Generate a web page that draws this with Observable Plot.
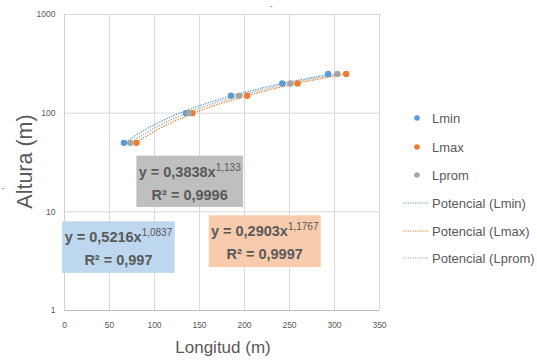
<!DOCTYPE html>
<html><head><meta charset="utf-8">
<script src="https://cdn.jsdelivr.net/npm/d3@7"></script>
<script src="https://cdn.jsdelivr.net/npm/@observablehq/plot@0.6"></script>
<style>body{margin:0;background:#fff}#chart svg{display:block}</style>
</head><body><div id="chart"></div>
<script>
const heights = [50, 100, 150, 200, 250];
const lminX = [66, 135, 185, 242, 293];
const lmaxX = [80, 142, 203, 259, 313];
const lpromX = [73, 138, 194, 251, 303];
const seriesNames = ["Lmin", "Lmax", "Lprom"];
const seriesColors = ["#5b9bd5", "#ed7d31", "#a5a5a5"];
const fitA = [0.5216, 0.2903, 0.3838];
const fitB = [1.0837, 1.1767, 1.133];
const aLabels = ["0,5216", "0,2903", "0,3838"];
const bLabels = ["1,0837", "1,1767", "1,133"];
const r2Labels = ["0,997", "0,9997", "0,9996"];
const boxFills = ["#bdd7ee", "#f8cbad", "#bfbfbf"];
const xTicks = [0, 50, 100, 150, 200, 250, 300, 350];
const yTicks = [1, 10, 100, 1000];
const xTitle = "Longitud (m)";
const yTitle = "Altura (m)";

const FONT = "'Liberation Sans', Arial, sans-serif";
const TXT = "#595959";

const xs = [lminX, lmaxX, lpromX];
const points = [];
seriesNames.forEach((s, i) => xs[i].forEach((x, j) => points.push({series: s, x, y: heights[j]})));

const trend = [];
seriesNames.forEach((s, i) => {
  const [lo, hi] = d3.extent(xs[i]);
  const n = 60;
  for (let k = 0; k <= n; k++) {
    const x = lo + (hi - lo) * k / n;
    trend.push({series: s, x, y: fitA[i] * Math.pow(x, fitB[i])});
  }
});

const chart = Plot.plot({
  width: 537, height: 360,
  marginLeft: 64, marginRight: 158, marginTop: 14, marginBottom: 50,
  style: {fontFamily: FONT, background: "#fff", overflow: "visible"},
  x: {domain: [0, 350], ticks: xTicks, label: null},
  y: {type: "log", domain: [1, 1000], ticks: yTicks, label: null},
  color: {domain: seriesNames, range: seriesColors},
  marks: [
    Plot.gridX(xTicks, {stroke: "#d9d9d9", strokeOpacity: 1}),
    Plot.gridY(yTicks, {stroke: "#d9d9d9", strokeOpacity: 1}),
    Plot.ruleY([1], {stroke: "#bfbfbf"}),
    Plot.ruleX([0], {stroke: "#d0d0d0"}),
    Plot.axisX({ticks: xTicks, tickSize: 0, tickPadding: 11, fontSize: 8.5, fill: TXT, label: null}),
    Plot.axisY({ticks: yTicks, tickSize: 0, tickPadding: 9, fontSize: 8.5, fill: TXT, label: null, tickFormat: d => String(d)}),
    Plot.line(trend, {x: "x", y: "y", z: "series", stroke: "series", strokeWidth: 1.3, strokeDasharray: "1.3,1.3", strokeLinecap: "butt", curve: "linear"}),
    Plot.dot(points, {x: "x", y: "y", fill: "series", r: 3.2})
  ]
});

const svg = d3.select(chart);
const sx = chart.scale("x"), sy = chart.scale("y");

// equation label boxes (data coordinates)
const boxes = [
  {i: 0, x1: -2, x2: 123, y1: 7.92, y2: 2.38},
  {i: 1, x1: 160.8, x2: 285.2, y1: 9.11, y2: 2.73},
  {i: 2, x1: 80.4, x2: 198.9, y1: 36.7, y2: 11.08}
];
boxes.forEach(b => {
  const px1 = sx.apply(b.x1), px2 = sx.apply(b.x2), py1 = sy.apply(b.y1), py2 = sy.apply(b.y2);
  const g = svg.append("g").attr("font-family", FONT);
  g.append("rect").attr("x", px1).attr("y", py1).attr("width", px2 - px1).attr("height", py2 - py1).attr("fill", boxFills[b.i]);
  const cx = (px1 + px2) / 2;
  const t1 = g.append("text").attr("x", cx).attr("y", py1 + 21).attr("text-anchor", "middle").attr("fill", TXT).attr("font-size", 14.5).attr("font-weight", "bold");
  t1.append("tspan").text("y = " + aLabels[b.i] + "x");
  t1.append("tspan").attr("dy", -6).attr("font-size", 10).attr("font-weight", "normal").text(bLabels[b.i]);
  g.append("text").attr("x", cx).attr("y", py1 + 44).attr("text-anchor", "middle").attr("fill", TXT).attr("font-size", 14.5).attr("font-weight", "bold").text("R² = " + r2Labels[b.i]);
});

// axis titles
svg.append("text").attr("x", 223).attr("y", 353).attr("text-anchor", "middle").attr("font-family", FONT).attr("font-size", 17).attr("fill", TXT).text(xTitle);
svg.append("text").attr("transform", "translate(32,161.5) rotate(-90)").attr("text-anchor", "middle").attr("font-family", FONT).attr("font-size", 21.5).attr("fill", TXT).text(yTitle);
svg.append("text").attr("x", 271).attr("y", 8).attr("text-anchor", "middle").attr("font-family", FONT).attr("font-size", 8).attr("fill", TXT).text("-");
svg.append("text").attr("x", 3).attr("y", 190).attr("text-anchor", "middle").attr("font-family", FONT).attr("font-size", 8).attr("fill", TXT).text("-");

// legend
const leg = svg.append("g").attr("font-family", FONT).attr("font-size", 13).attr("fill", TXT).attr("text-anchor", "start");
const legY = [118, 147, 175, 203, 231, 258];
seriesNames.forEach((s, i) => {
  leg.append("circle").attr("cx", 417).attr("cy", legY[i]).attr("r", 2.8).attr("fill", seriesColors[i]);
  leg.append("text").attr("x", 432).attr("y", legY[i]).attr("dy", "0.35em").attr("text-anchor", "start").text(s);
});
seriesNames.forEach((s, i) => {
  const y = legY[3 + i];
  leg.append("line").attr("x1", 403).attr("x2", 429).attr("y1", y).attr("y2", y).attr("stroke", seriesColors[i]).attr("stroke-width", 1.2).attr("stroke-dasharray", "1.2,1.2");
  leg.append("text").attr("x", 432).attr("y", y).attr("dy", "0.35em").attr("text-anchor", "start").text("Potencial (" + s + ")");
});

document.getElementById("chart").appendChild(chart);
</script>
</body></html>
